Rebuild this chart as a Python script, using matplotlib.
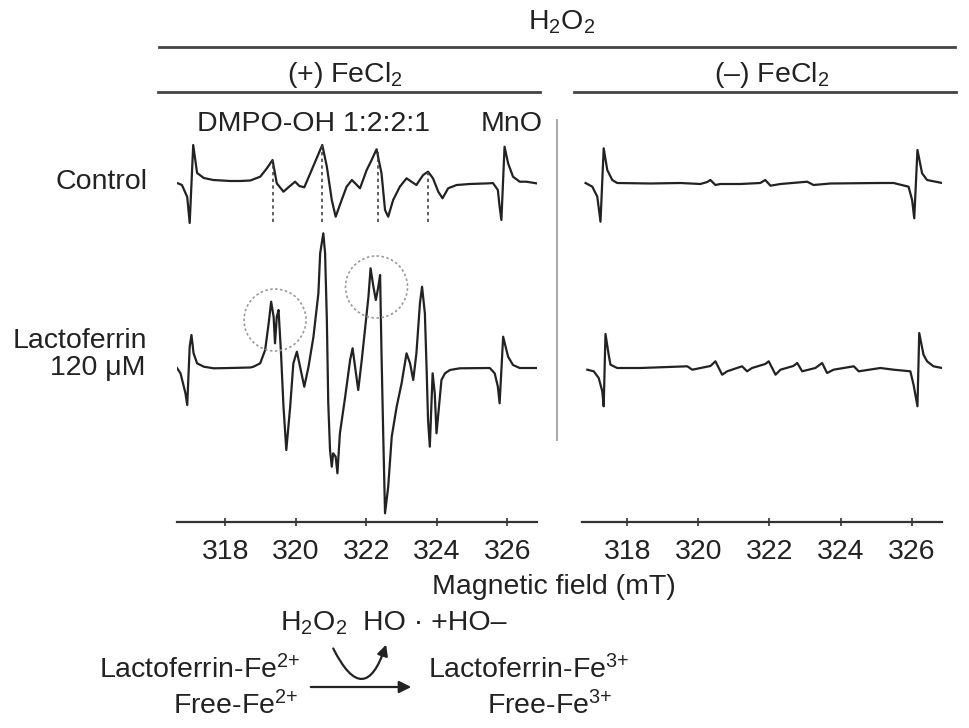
import matplotlib
matplotlib.use('Agg')
from matplotlib import pyplot as plt
from matplotlib.patches import Circle, FancyArrowPatch

plt.rcParams['font.family'] = 'Liberation Sans'
plt.rcParams['mathtext.fontset'] = 'custom'
plt.rcParams['mathtext.rm'] = 'Liberation Sans'
plt.rcParams['mathtext.it'] = 'Liberation Sans:italic'
plt.rcParams['mathtext.bf'] = 'Liberation Sans:bold'

# field axis (mT)
field_ticks = [318, 320, 322, 324, 326]

# (+) FeCl2, control spectrum (field in mT, intensity in a.u.)
ctrl_fe_field = [316.63, 316.77, 316.92, 316.99, 317.09, 317.20, 317.39, 317.66, 318.14, 318.42,
                 318.71, 318.99, 319.18, 319.34, 319.46, 319.65, 319.79, 319.98, 320.10, 320.24,
                 320.41, 320.59, 320.75, 320.88, 321.02, 321.13, 321.30, 321.44, 321.59, 321.73,
                 321.82, 322.01, 322.15, 322.29, 322.43, 322.53, 322.62, 322.76, 322.95, 323.14,
                 323.28, 323.42, 323.61, 323.75, 323.89, 324.04, 324.16, 324.32, 324.56, 324.93,
                 325.50, 325.59, 325.73, 325.78, 325.83, 325.92, 326.02, 326.16, 326.35, 326.54,
                 326.82]
ctrl_fe_int = [0, -2, -14, -40, 38, 10, 5, 3, 2, 2,
               2.5, 6.3, 14.7, 23, -0.3, -8.7, -4.3, 1.3, -3, -4.3,
               9.7, 24.7, 38, 16.3, -17, -33.7, -17, -3.7, 3, -2,
               -5.3, 13, 23, 33.7, 9.7, -27, -33.7, -17, -3.7, 4.7,
               1.3, -2, 8, 11.3, 4.7, -8.7, -15.3, -5.3, -2, -1,
               -0.3, 0, -7, -23.7, -37, 36.3, 19.7, 6.3, 1.3, 1.3,
               -0.3]

# (+) FeCl2, lactoferrin 120 uM spectrum
lacto_fe_field = [316.63, 316.73, 316.87, 316.92, 316.99, 317.04, 317.10, 317.20, 317.39, 317.67,
                  318.14, 318.71, 318.80, 318.99, 319.13, 319.23, 319.30, 319.37, 319.41, 319.46,
                  319.51, 319.58, 319.65, 319.73, 319.84, 319.93, 320.03, 320.12, 320.24, 320.36,
                  320.50, 320.64, 320.69, 320.78, 320.83, 320.88, 320.92, 320.97, 321.02, 321.06,
                  321.13, 321.18, 321.25, 321.40, 321.54, 321.61, 321.68, 321.77, 321.87, 321.96,
                  322.06, 322.12, 322.20, 322.27, 322.34, 322.39, 322.43, 322.48, 322.53, 322.62,
                  322.72, 322.86, 323.00, 323.14, 323.24, 323.33, 323.42, 323.52, 323.58, 323.66,
                  323.71, 323.75, 323.80, 323.88, 323.94, 323.99, 324.06, 324.13, 324.23, 324.37,
                  324.65, 325.50, 325.64, 325.73, 325.78, 325.88, 326.02, 326.16, 326.35, 326.72,
                  326.82]
lacto_fe_int = [0, -5.3, -25.3, -37, 21.3, 33, 14.7, 4.7, 1.3, -0.3,
                0, 0.5, 1.3, 4.7, 18, 44.7, 66.3, 51.3, 24.7, 51.3,
                58, 14.7, -38.7, -82, -38.7, 4.7, 16.3, 1.3, -18.7, 1.3,
                31.3, 74.7, 114.7, 134.7, 114.7, 48, -35.3, -82, -98.7, -85.3,
                -88.7, -105.3, -65.3, -28.7, 8, 19.7, 1.3, -22, 8, 38,
                71.3, 99.7, 81.3, 68, 81.3, 93, 14.7, -68.7, -145.3, -118.7,
                -68.7, -38.7, -15.3, 14.7, 4.7, -12, 14.7, 64.7, 81.3, 54.7,
                -2, -52, -78.7, -5.3, -25.3, -65.3, -38.7, -12, -5.3, -2,
                -0.3, 0, -5.3, -18.7, -35.3, 31.3, 11.3, 3, 0, 0,
                0]

# (-) FeCl2, control spectrum
ctrl_nofe_field = [316.83, 317.02, 317.16, 317.25, 317.34, 317.44, 317.58, 317.72, 318.65, 319.50,
                   320.06, 320.25, 320.34, 320.48, 320.62, 321.18, 321.74, 321.88, 322.03, 322.31,
                   323.06, 323.24, 323.71, 325.12, 325.49, 325.91, 326.01, 326.07, 326.16, 326.29,
                   326.43, 326.85]
ctrl_nofe_int = [0, -3.7, -13.7, -38.7, 34.7, 13, 3, 0, -0.5, 0,
                 -1, 1, 3, -2, -1, -1, 0, 3, -2.7, -1,
                 1.3, -2, -0.5, 0, 0, -3.7, -17, -35.3, 33, 9.7,
                 3, 0]

# (-) FeCl2, lactoferrin 120 uM spectrum
lacto_nofe_field = [316.88, 317.06, 317.20, 317.30, 317.34, 317.39, 317.48, 317.53, 317.72, 318.37,
                    319.69, 319.83, 320.34, 320.48, 320.67, 320.81, 321.23, 321.37, 321.51, 321.88,
                    321.98, 322.17, 322.31, 322.67, 322.78, 322.92, 323.29, 323.48, 323.62, 323.80,
                    324.37, 324.51, 325.12, 325.49, 325.96, 326.05, 326.16, 326.21, 326.33, 326.43,
                    326.61, 326.85]
lacto_nofe_int = [-1.7, -3.3, -10, -23.3, -38.3, 34, 13.3, 3.3, 0, 0,
                  1.7, -1.7, 2, 6.7, -6.7, -3.3, 1.7, -3.3, 0, 4,
                  6.7, -6.7, -1.7, 2, 5, -3.3, 0, 5, -5, -1.7,
                  1.7, -3.3, 0, -1.7, -3.3, -16.7, -38.3, 35, 13.3, 6.7,
                  1.7, 0]

# DMPO-OH quartet markers (field, top of dashed line)
dmpo_field = [319.35, 320.75, 322.33, 323.74]
dmpo_top = [23, 38, 34, 12]

W, H = 969, 728
fig = plt.figure(figsize=(W / 100, H / 100), dpi=100)

ctrl_offset = 185
line_col = '#222222'
fs = 20.5


def spectrum_axes(left_px, right_px, xlim):
    ax = fig.add_axes([left_px / W, (H - 522) / H, (right_px - left_px) / W, (522 - 120) / H])
    ax.set_xlim(*xlim)
    ax.set_ylim(-154, 248)
    for s in ['top', 'right', 'left']:
        ax.spines[s].set_visible(False)
    ax.spines['bottom'].set_color('#333333')
    ax.spines['bottom'].set_linewidth(1.6)
    ax.set_yticks([])
    ax.set_xticks(field_ticks)
    ax.tick_params(axis='x', direction='inout', length=6, width=1.2, color='#333333',
                   labelsize=fs, pad=9, labelcolor='#222222')
    ax.patch.set_alpha(0)
    return ax


ax1 = spectrum_axes(177, 537, (316.63, 326.84))
ax1.plot(ctrl_fe_field, [v + ctrl_offset for v in ctrl_fe_int], color=line_col, lw=1.6)
ax1.plot(lacto_fe_field, lacto_fe_int, color=line_col, lw=1.6)
ax1.vlines(dmpo_field, [-39 + ctrl_offset] * 4, [t + ctrl_offset for t in dmpo_top],
           colors='#444444', linestyles=(0, (2, 2)), lw=1.2)

ax2 = spectrum_axes(582, 942, (316.73, 326.85))
ax2.plot(ctrl_nofe_field, [v + ctrl_offset for v in ctrl_nofe_int], color=line_col, lw=1.6)
ax2.plot(lacto_nofe_field, lacto_nofe_int, color=line_col, lw=1.6)

# overlay in pixel coordinates for labels and scheme
ov = fig.add_axes([0, 0, 1, 1])
ov.set_xlim(0, W)
ov.set_ylim(H, 0)
ov.axis('off')
ov.patch.set_alpha(0)

txt = dict(fontsize=fs, color='#222222')
ov.text(562, 22, 'H$_2$O$_2$', ha='center', va='center', **txt)
ov.plot([159, 955], [47, 47], color='#444444', lw=2)
ov.text(345, 75, '(+) FeCl$_2$', ha='center', va='center', **txt)
ov.plot([158, 540], [92, 92], color='#444444', lw=2)
ov.text(772, 75, '(\u2013) FeCl$_2$', ha='center', va='center', **txt)
ov.plot([574, 956], [92, 92], color='#444444', lw=2)

ov.text(197, 124, 'DMPO-OH 1:2:2:1', ha='left', va='center', **txt)
ov.text(543, 124, 'MnO', ha='right', va='center', **txt)

ov.text(148, 182, 'Control', ha='right', va='center', **txt)
ov.text(147, 341, 'Lactoferrin', ha='right', va='center', **txt)
ov.text(146, 368, '120 \u03bcM', ha='right', va='center', **txt)

ov.plot([557, 557], [120, 440], color='#aaaaaa', lw=1.5)

for cx, cy in [(275, 320), (376.5, 287)]:
    ov.add_patch(Circle((cx, cy), 31, fill=False, ec='#999999', lw=1.2, ls=(0, (1.5, 1.5))))

ov.text(554, 587, 'Magnetic field (mT)', ha='center', va='center', **txt)

# reaction scheme
ov.text(280, 623, 'H$_2$O$_2$', ha='left', va='center', **txt)
ov.text(363, 623, 'HO \u00b7 +HO\u2013', ha='left', va='center', **txt)
ov.text(300, 670, 'Lactoferrin-Fe$^{2{+}}$', ha='right', va='center', **txt)
ov.text(298, 706, 'Free-Fe$^{2{+}}$', ha='right', va='center', **txt)
ov.text(428, 670, 'Lactoferrin-Fe$^{3{+}}$', ha='left', va='center', **txt)
ov.text(612, 706, 'Free-Fe$^{3{+}}$', ha='right', va='center', **txt)
ov.add_patch(FancyArrowPatch((308, 687), (414, 687), arrowstyle='-|>', mutation_scale=18,
                             color='#222222', lw=1.6))
ov.add_patch(FancyArrowPatch((332, 646), (387, 642), arrowstyle='-|>', mutation_scale=16,
                             connectionstyle='arc3,rad=1.25', color='#222222', lw=1.6))

fig.savefig('out.png', dpi=100)
